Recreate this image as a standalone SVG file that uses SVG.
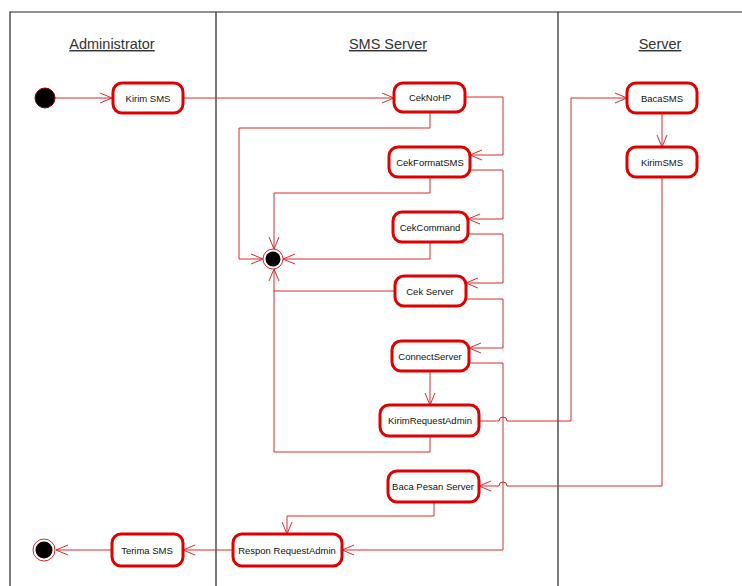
<svg xmlns="http://www.w3.org/2000/svg" width="742" height="586" viewBox="0 0 742 586">
<style>
.frame{fill:none;stroke:#222;stroke-width:1.2}
.lane{font-family:"Liberation Sans",Arial,sans-serif;font-size:14.5px;fill:#333;text-anchor:middle;text-decoration:underline}
.node rect{fill:#fff;stroke:#e00000;stroke-width:3}
.node text{font-family:"Liberation Sans",Arial,sans-serif;font-size:9.5px;fill:#111;text-anchor:middle}
.conn path{fill:none;stroke:#d62a2a;stroke-width:1}
.arr{marker-end:url(#a)}
</style>
<defs>
<marker id="a" markerWidth="14" markerHeight="12" refX="13" refY="6" orient="auto" markerUnits="userSpaceOnUse">
<path d="M1,1 L13,6 L1,11" fill="none" stroke="#d62a2a" stroke-width="1"/>
</marker>
</defs>
<rect width="742" height="586" fill="#fff"/>
<g id="swimlanes">
<path class="frame" d="M10,586 V12 H742 M216,12 V586 M558,12 V586"/>
<text class="lane" x="112" y="49">Administrator</text>
<text class="lane" x="388" y="49">SMS Server</text>
<text class="lane" x="660" y="49">Server</text>
</g>
<g class="conn" id="connectors">
<path class="arr" d="M55,98 H112"/>
<path class="arr" d="M183,98 H394"/>
<path class="arr" d="M465,97 H503 V155 H470"/>
<path class="arr" d="M430,112 V128 H239 V259 H263"/>
<path class="arr" d="M470,170 H503 V219 H468"/>
<path class="arr" d="M430,177 V193 H274 V249"/>
<path class="arr" d="M430,242 V259 H283"/>
<path class="arr" d="M468,234 H503 V283 H466"/>
<path class="arr" d="M395,291 H274 V269"/>
<path class="arr" d="M466,299 H503 V348 H469"/>
<path class="arr" d="M430,371 V405"/>
<path d="M430,436 V452 H274 V291"/>
<path class="arr" d="M469,363 H503 V550 H342"/>
<path class="arr" d="M479,421 H499 a4,4 0 0 1 8,0 H571 V98 H627"/>
<path class="arr" d="M662,113 V147"/>
<path class="arr" d="M662,177 V486 H507 a4,4 0 0 0 -8,0 H479"/>
<path class="arr" d="M434,502 V516 H287 V534"/>
<path class="arr" d="M233,550 H183"/>
<path class="arr" d="M112,550 H56"/>
</g>
<g id="start">
<circle cx="45" cy="98" r="10" fill="#000" stroke="#8b0000" stroke-width="1"/>
</g>
<g id="merge-end">
<circle cx="273" cy="259" r="10" fill="#fff" stroke="#d62a2a" stroke-width="1"/>
<circle cx="273" cy="259" r="7.5" fill="#000"/>
</g>
<g id="end">
<circle cx="44" cy="550" r="11" fill="#fff" stroke="#d62a2a" stroke-width="1"/>
<circle cx="44" cy="550" r="8.5" fill="#000"/>
</g>
<g class="node" id="kirim-sms"><rect x="113" y="83" width="70" height="30" rx="9"/><text x="148" y="101.5">Kirim SMS</text></g>
<g class="node" id="ceknohp"><rect x="394" y="83" width="71" height="29" rx="9"/><text x="430" y="101">CekNoHP</text></g>
<g class="node" id="cekformatsms"><rect x="389" y="147" width="81" height="30" rx="9"/><text x="430" y="165.5">CekFormatSMS</text></g>
<g class="node" id="cekcommand"><rect x="393" y="212" width="75" height="30" rx="9"/><text x="430" y="230.5">CekCommand</text></g>
<g class="node" id="cekserver"><rect x="395" y="276" width="71" height="30" rx="9"/><text x="430" y="294.5">Cek Server</text></g>
<g class="node" id="connectserver"><rect x="392" y="341" width="77" height="30" rx="9"/><text x="430" y="359.5">ConnectServer</text></g>
<g class="node" id="kirimrequestadmin"><rect x="380" y="405" width="99" height="31" rx="9"/><text x="430" y="424">KirimRequestAdmin</text></g>
<g class="node" id="bacapesanserver"><rect x="388" y="471" width="91" height="31" rx="9"/><text x="433" y="490">Baca Pesan Server</text></g>
<g class="node" id="responrequestadmin"><rect x="233" y="534" width="109" height="32" rx="9"/><text x="287" y="553.5">Respon RequestAdmin</text></g>
<g class="node" id="terima-sms"><rect x="112" y="534" width="71" height="32" rx="9"/><text x="147" y="553.5">Terima SMS</text></g>
<g class="node" id="bacasms"><rect x="627" y="83" width="70" height="30" rx="9"/><text x="662" y="101.5">BacaSMS</text></g>
<g class="node" id="kirimsms"><rect x="627" y="147" width="70" height="30" rx="9"/><text x="662" y="165.5">KirimSMS</text></g>
</svg>
